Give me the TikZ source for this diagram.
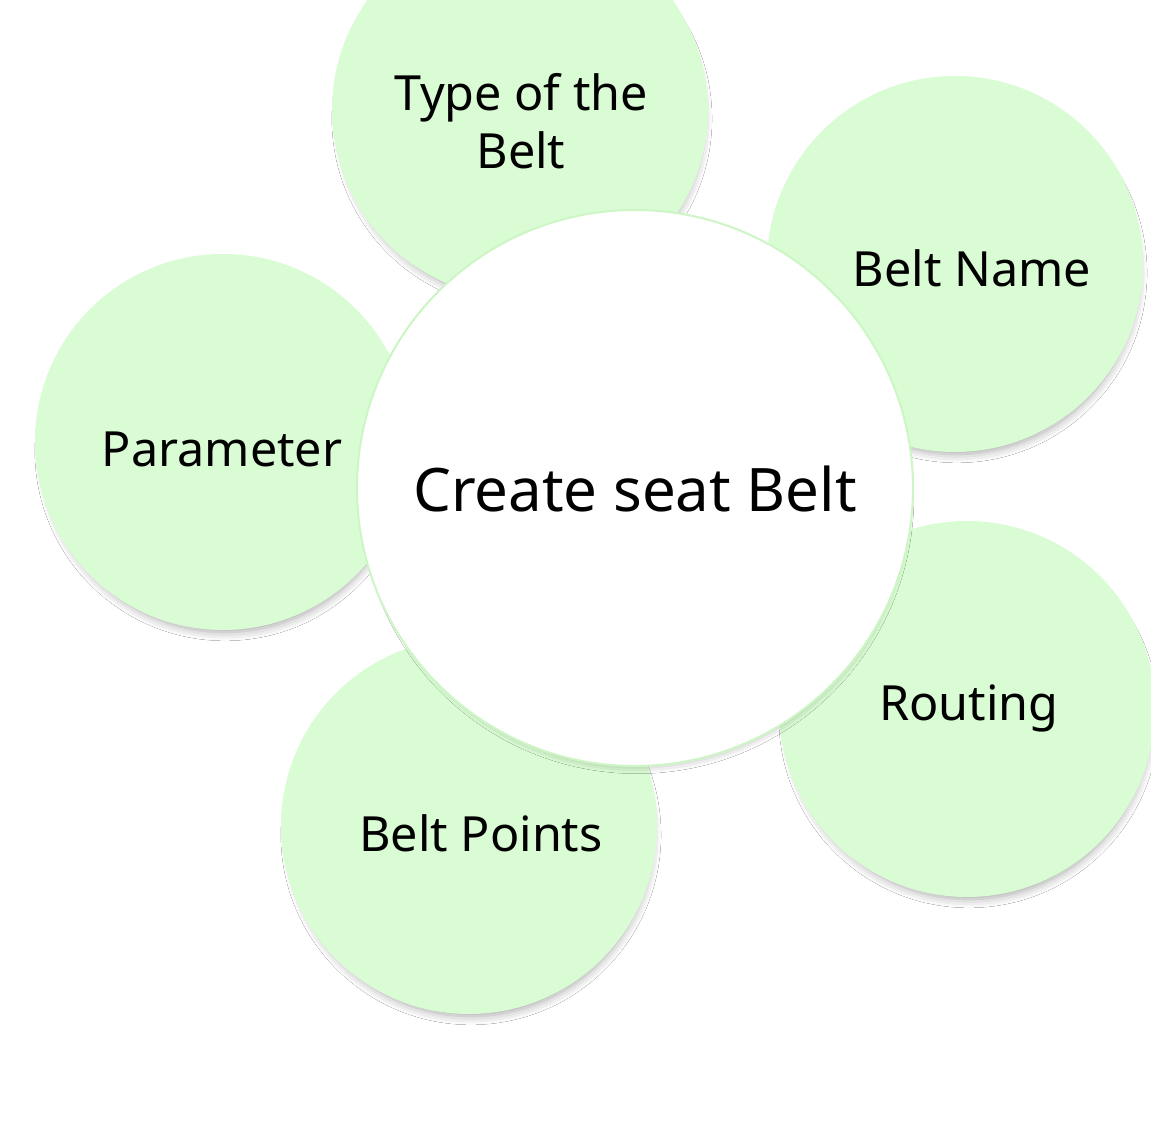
\documentclass[tikz,border=0pt]{standalone}
\usepackage{fontspec}
\setmainfont{Noto Sans}
\usetikzlibrary{shadows.blur}
\definecolor{petal}{HTML}{DAFCD4}
\definecolor{rim}{HTML}{CDF5C5}
\tikzset{
  softshadow/.style={blur shadow={shadow xshift=2pt, shadow yshift=-9pt, shadow scale=0.965, shadow blur radius=9pt, shadow opacity=35}},
  petalbox/.style={circle, fill=petal, minimum size=376pt, inner sep=0pt, softshadow},
  hubbox/.style={circle, fill=white, draw=rim, line width=2pt, minimum size=556pt, inner sep=0pt, softshadow},
  petaltext/.style={font=\fontsize{48.5}{58}\selectfont, align=center, inner sep=0pt},
  hubtext/.style={font=\fontsize{60}{72}\selectfont, inner sep=0pt}
}
\begin{document}
\begin{tikzpicture}[x=1pt,y=-1pt]
\path[use as bounding box, clip] (0,0) rectangle (1151,1143);
\fill[white] (0,0) rectangle (1151,1143);
\node[petalbox] (type) at (520,110) {};
\node[petalbox] (name) at (955,264) {};
\node[petalbox] (param) at (223,442) {};
\node[petalbox] (points) at (469,826) {};
\node[petalbox] (routing) at (967,709) {};
\node[hubbox] (hub) at (635,488) {};
\node[petaltext] (ttype) at (521,121) {Type of the\\Belt};
\node[petaltext] (tname) at (972,268) {Belt Name};
\node[petaltext] (tparam) at (222,449) {Parameter};
\node[petaltext] (tpoints) at (481,833) {Belt Points};
\node[petaltext] (trouting) at (969,708) {Routing};
\node[hubtext] (thub) at (635,489) {Create seat Belt};
\end{tikzpicture}
\end{document}
